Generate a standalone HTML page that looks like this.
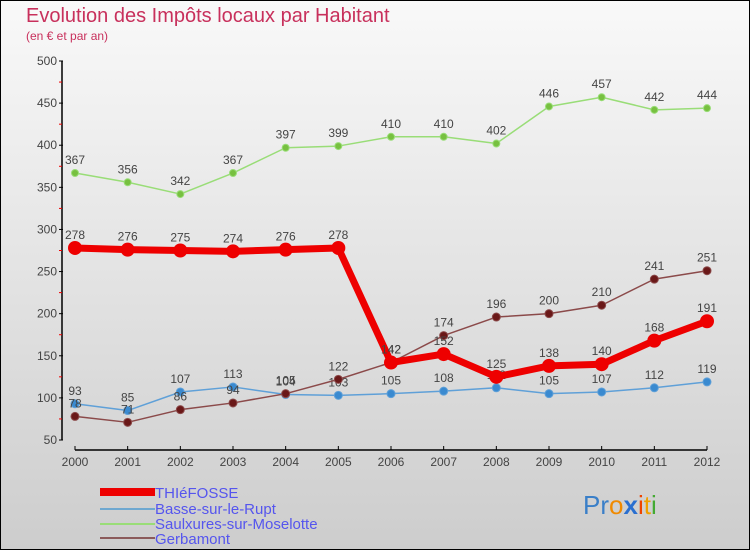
<!DOCTYPE html>
<html><head><meta charset="utf-8"><style>
body{margin:0;}
#c{width:750px;height:550px;position:relative;overflow:hidden;font-family:"Liberation Sans",sans-serif;}
</style></head><body>
<div id="c">
<svg id="s" width="750" height="550" xmlns="http://www.w3.org/2000/svg">
<defs><linearGradient id="bg" x1="0" y1="0" x2="0" y2="1"><stop offset="0" stop-color="#f9f9f9"/><stop offset="1" stop-color="#cdcdcd"/></linearGradient></defs>
<rect x="0.5" y="0.5" width="749" height="549" fill="url(#bg)" stroke="#000"/>
<text x="26" y="22" font-size="20" fill="#c8305c">Evolution des Impôts locaux par Habitant</text>
<text x="26" y="40" font-size="12" fill="#c8305c">(en € et par an)</text>
<g id="axes"></g><g id="series"></g>
<g>
<rect x="100" y="488" width="55" height="8" fill="#ee0000"/>
<text x="155" y="498" font-size="15" fill="#5555ee">THIéFOSSE</text>
<rect x="100" y="508" width="55" height="2" fill="#6fa8d0"/>
<text x="155" y="514" font-size="15" fill="#5555ee">Basse-sur-le-Rupt</text>
<rect x="100" y="523" width="55" height="2" fill="#99dd77"/>
<text x="155" y="529" font-size="15" fill="#5555ee">Saulxures-sur-Moselotte</text>
<rect x="100" y="537" width="55" height="2" fill="#8b5a5a"/>
<text x="155" y="544" font-size="15" fill="#5555ee">Gerbamont</text>
</g>
<g font-size="26" font-family="Liberation Sans, sans-serif">
<text x="583" y="514"><tspan fill="#3a7fc8">Pr</tspan><tspan fill="#f08a00">o</tspan><tspan fill="#2a6fd0" font-weight="bold">x</tspan><tspan fill="#ee4400">i</tspan><tspan fill="#f0a000">t</tspan><tspan fill="#44aa33">i</tspan></text>
</g>
</svg>
</div>
<script>
const years=[2000,2001,2002,2003,2004,2005,2006,2007,2008,2009,2010,2011,2012];
const yTicks=[50,100,150,200,250,300,350,400,450,500];
const thiefosse=[278,276,275,274,276,278,142,152,125,138,140,168,191];
const basse=[93,85,107,113,104,103,105,108,112,105,107,112,119];
const saulxures=[367,356,342,367,397,399,410,410,402,446,457,442,444];
const gerbamont=[78,71,86,94,105,122,142,174,196,200,210,241,251];
const NS="http://www.w3.org/2000/svg";
function xs(i){return 75+i*(707-75)/(years.length-1);}
function ys(v){return 440-(v-50)*(440-61)/450;}
function mk(tag,attrs,parent){const e=document.createElementNS(NS,tag);for(const k in attrs)e.setAttribute(k,attrs[k]);parent.appendChild(e);return e;}
const ax=document.getElementById('axes');
let l=mk('line',{x1:62,y1:61,x2:62,y2:440,stroke:'#000','stroke-width':1.5},ax);


l=mk('line',{x1:75,y1:450,x2:707,y2:450,stroke:'#000','stroke-width':1.5},ax);


yTicks.forEach((v,i)=>{
 mk('line',{x1:59,y1:ys(v),x2:63,y2:ys(v),stroke:'#000'},ax);
 if(i<yTicks.length-1)mk('line',{x1:59,y1:ys(v+25),x2:62,y2:ys(v+25),stroke:'#e00'},ax);
 const t=mk('text',{x:57,y:ys(v)+4,'font-size':12,fill:'#444','text-anchor':'end'},ax);
 t.textContent=v;
 
 
});
years.forEach((y,i)=>{
 mk('line',{x1:xs(i),y1:446,x2:xs(i),y2:450,stroke:'#000'},ax);
 const t=mk('text',{x:xs(i),y:466,'font-size':12,fill:'#444','text-anchor':'middle'},ax);
 t.textContent=y;
 
 
});
const sg=document.getElementById('series');
function series(name,vals,color,dot,w,r){
 const g=mk('g',{},sg);
 
 
 const p=mk('polyline',{points:vals.map((v,i)=>xs(i)+','+ys(v)).join(' '),fill:'none',stroke:color,'stroke-width':w,'stroke-linejoin':'round'},g);
 
 
 vals.forEach((v,i)=>{
  const c=mk('circle',{cx:xs(i),cy:ys(v),r:r,fill:dot,stroke:color,'stroke-width':1},g);
  
  
  const t=mk('text',{x:xs(i),y:ys(v)-9,'font-size':12,fill:'#444','text-anchor':'middle'},g);
  t.textContent=v;
  
  
 });
}
series('saulxures',saulxures,'#99dd77','#77c040',1.5,3.5);
series('basse',basse,'#5fa0d8','#3a8ad0',1.5,4);
series('gerbamont',gerbamont,'#8b4a4a','#6a1818',1.5,4);
series('thiefosse',thiefosse,'#ee0000','#ee0000',7,6.5);
</script>
</body></html>
